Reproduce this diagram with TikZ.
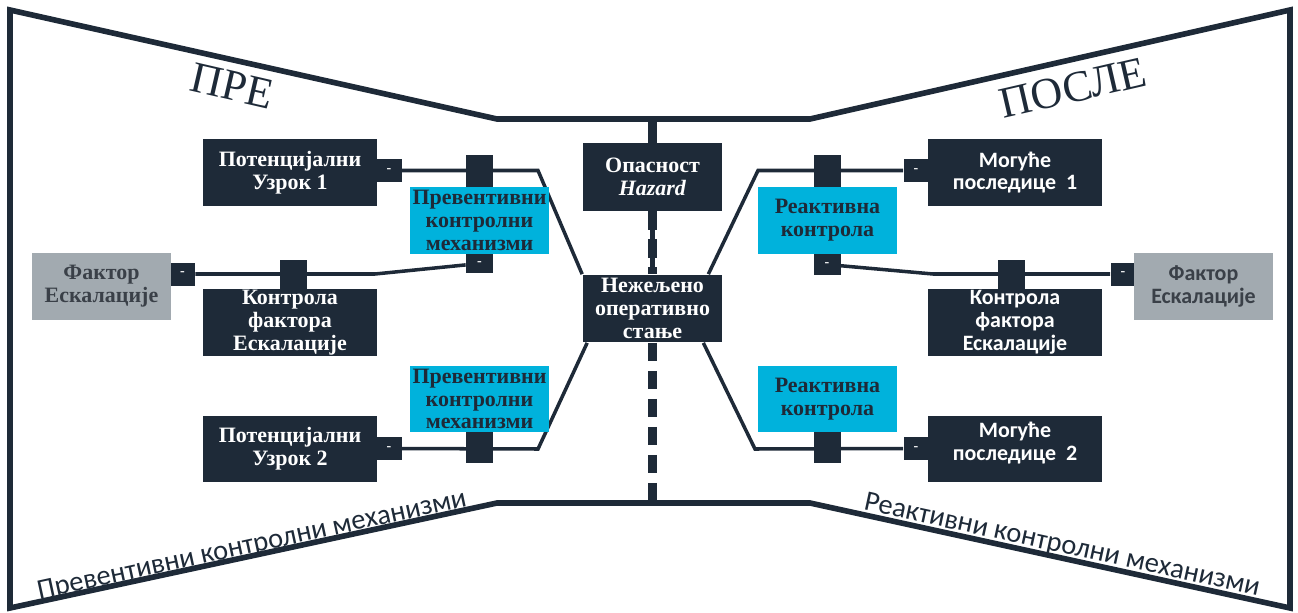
\documentclass[tikz,border=0pt]{standalone}
\usepackage{fontspec}
\setmainfont{Liberation Serif}
\setsansfont{Carlito}
\usetikzlibrary{positioning,calc}
\definecolor{navy}{RGB}{30,42,56}
\definecolor{barcyan}{RGB}{0,178,220}
\definecolor{facgrey}{RGB}{162,170,176}
\definecolor{factext}{RGB}{58,64,72}
\pgfdeclarelayer{back}
\pgfsetlayers{back,main}

\begin{document}
\begin{tikzpicture}
  [x=0.02cm,y=-0.02cm,
   every node/.style={inner sep=0pt,align=center},
   box/.style={fill=navy,text=white,font=\fontsize{12.5}{13}\selectfont\bfseries,minimum width=3.48cm,minimum height=1.34cm},
   sbox/.style={box,font=\fontsize{12.5}{13}\selectfont\sffamily\bfseries},
   hazbox/.style={box,minimum width=2.8cm,minimum height=1.36cm},
   barrier/.style={fill=barcyan,text=navy,font=\fontsize{12.5}{13}\selectfont\bfseries,minimum width=2.8cm,minimum height=1.34cm},
   factor/.style={fill=facgrey,text=factext,font=\fontsize{12.5}{13}\selectfont\bfseries,minimum width=2.78cm,minimum height=1.34cm},
   sfactor/.style={factor,font=\fontsize{12.5}{13}\selectfont\sffamily\bfseries},
   minusbox/.style={fill=navy,text=white,font=\footnotesize\bfseries,minimum width=0.5cm,minimum height=0.46cm},
   block/.style={fill=navy,minimum width=0.54cm,minimum height=0.66cm},
   link/.style={draw=navy,line width=2pt},
   outline/.style={draw=navy,line width=3.2pt,line join=miter},
   spine/.style={draw=navy,line width=5pt},
   spinedash/.style={spine,dash pattern=on 0.37cm off 0.19cm},
   title/.style={text=navy,font=\fontsize{25}{25}\selectfont},
   side/.style={text=navy,font=\fontsize{16.2}{16.2}\selectfont\sffamily}]
  \useasboundingbox (0,0) rectangle (1298,612);

  % bow tie
  \draw[outline] (10,10) -- (497,119) -- (810,119) -- (1290,10) -- (1290,608)
    -- (810,503) -- (497,503) -- (10,608) -- cycle;

  % centre
  \node[hazbox] (haz) at (652.5,177) {Опасност\\\textit{Hazard}};
  \node[hazbox] (ue) at (652.5,308.5) {Нежељено\\оперативно\\стање};

  % left side
  \node[box] (cause1) at (290,172.5) {Потенцијални\\Узрок 1};
  \node[minusbox] (m1) at (389,170.5) {-};
  \node[block] (b1) at (479.5,171.5) {};
  \node[barrier] (prev1) at (479.5,220.5) {Превентивни\\контролни\\механизми};
  \node[minusbox,minimum width=0.54cm,minimum height=0.38cm] (m2) at (479.5,263.5) {-};
  \node[block,minimum height=0.6cm] (e1) at (293,275) {};
  \node[box] (ctrl1) at (290,322.5) {Контрола\\фактора\\Ескалације};
  \node[minusbox] (m3) at (182.5,274) {-};
  \node[factor] (fac1) at (101.5,286.5) {Фактор\\Ескалације};
  \node[block,minimum height=0.62cm] (b2) at (479.5,447.5) {};
  \node[barrier] (prev2) at (479.5,399) {Превентивни\\контролни\\механизми};
  \node[box] (cause2) at (290,449) {Потенцијални\\Узрок 2};
  \node[minusbox] (m4) at (389,448.5) {-};

  % right side
  \node[sbox] (cons1) at (1015,172.5) {Могуће\\последице\ \ 1};
  \node[minusbox] (rm1) at (916,170.5) {-};
  \node[block] (rb1) at (827,171.5) {};
  \node[barrier] (reak1) at (827.5,220.5) {Реактивна\\контрола};
  \node[minusbox,minimum width=0.54cm,minimum height=0.42cm] (rm2) at (827,264.5) {-};
  \node[block,minimum height=0.6cm] (re1) at (1011,275) {};
  \node[sbox] (ctrl2) at (1015,322.5) {Контрола\\фактора\\Ескалације};
  \node[minusbox] (rm3) at (1123,274) {-};
  \node[sfactor] (fac2) at (1203.5,286.5) {Фактор\\Ескалације};
  \node[block,minimum height=0.62cm] (rb2) at (827,447.5) {};
  \node[barrier] (reak2) at (827.5,399) {Реактивна\\контрола};
  \node[sbox,text depth=0.3cm] (cons2) at (1015,449) {Могуће\\последице\ \ 2};
  \node[minusbox] (rm4) at (916,448.5) {-};

  % labels
  \node[title,rotate=-13] (pre) at (232,86) {ПРЕ};
  \node[title,rotate=13] (posle) at (1073,88) {ПОСЛЕ};
  \node[side,rotate=12.3] (prevlbl) at (252,546) {Превентивни контролни механизми};
  \node[side,rotate=-12.3] (reaklbl) at (1062,546) {Реактивни контролни механизми};

  \coordinate (tm) at (652.5,119);
  \coordinate (bm) at (652.5,503);
  \coordinate (l1) at (538,170.5);
  \coordinate (l2) at (375,274);
  \coordinate (l3) at (538,449);
  \coordinate (r1) at (758,170.5);
  \coordinate (r2) at (933,274);
  \coordinate (r3) at (755,449);
  \coordinate (ue-a) at (ue.north west);
  \coordinate (ue-b) at ([xshift=-0.29cm]ue.north east);
  \coordinate (ue-c) at ([xshift=0.1cm]ue.south west);
  \coordinate (ue-d) at ([xshift=-0.39cm]ue.south east);

  \begin{pgfonlayer}{back}
    \draw[spine] (tm) -- (haz);
    \draw[spine,line width=3.4pt] (haz) -- (ue);
    \draw[spinedash] (haz) -- (ue);
    \draw[spinedash] (ue) -- (bm);
    \foreach \a/\b/\c in {m1/l1/ue-a,m2/l2/m3,m4/l3/ue-c,rm1/r1/ue-b,rm2/r2/rm3,rm4/r3/ue-d}
      \draw[link] (\a) -- (\b) -- (\c);
  \end{pgfonlayer}
\end{tikzpicture}
\end{document}
